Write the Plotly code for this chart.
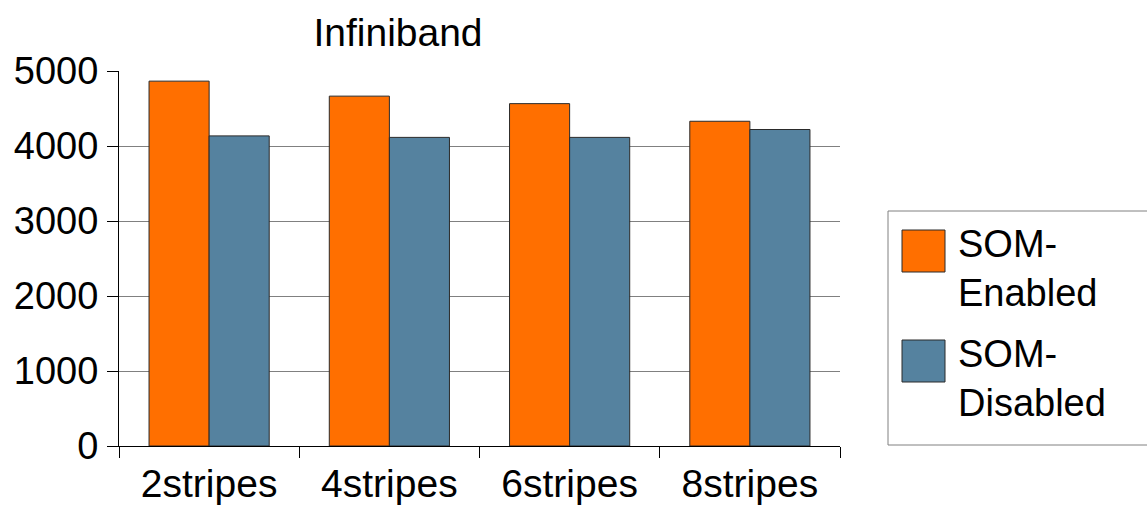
import plotly.graph_objects as go

categories = ["2stripes", "4stripes", "6stripes", "8stripes"]
som_enabled = [4865, 4665, 4565, 4330]
som_disabled = [4135, 4115, 4115, 4220]
series_names = ["SOM-Enabled", "SOM-Disabled"]
legend_labels = ["SOM-<br>Enabled", "SOM-<br>Disabled"]
colors = ["#FF6F00", "#55829F"]
y_ticks = [0, 1000, 2000, 3000, 4000, 5000]

W, H = 1147, 506
L, R, T, B = 119, 307, 71, 60
PW, PH = W - L - R, H - T - B

def px(x):
    return (x - L) / PW

def py(y):
    return (H - B - y) / PH

fig = go.Figure()
for name, vals, col in zip(series_names, [som_enabled, som_disabled], colors):
    fig.add_trace(go.Bar(
        x=categories, y=vals, name=name,
        marker=dict(color=col, line=dict(color="#2a2a2a", width=1)),
        showlegend=False,
    ))

font = "Liberation Sans, Arial, sans-serif"

# manual legend
shapes = [dict(type="rect", xref="paper", yref="paper",
               x0=px(888), x1=px(1160), y0=py(445), y1=py(211),
               line=dict(color="#808080", width=1), fillcolor="white", layer="below")]
annotations = []
for i, (lab, col) in enumerate(zip(legend_labels, colors)):
    top = 230 + i * 110
    shapes.append(dict(type="rect", xref="paper", yref="paper",
                       x0=px(902), x1=px(945), y0=py(top + 42), y1=py(top),
                       line=dict(color="#2a2a2a", width=1), fillcolor=col))
    annotations.append(dict(xref="paper", yref="paper", x=px(957), y=py(top - 8),
                            xanchor="left", yanchor="top", text=lab, showarrow=False,
                            align="left", borderpad=0,
                            font=dict(family=font, size=38, color="black")))

fig.update_layout(
    width=W, height=H,
    margin=dict(l=L, r=R, t=T, b=B, autoexpand=False),
    paper_bgcolor="white", plot_bgcolor="white",
    barmode="group", bargap=1/3, bargroupgap=0,
    font=dict(family=font, size=38, color="black"),
    title=dict(text="Infiniband", x=px(398), xref="paper", xanchor="center",
               y=1 - 32 / H, yref="container", yanchor="middle",
               font=dict(family=font, size=39, color="black")),
    shapes=shapes,
    annotations=annotations,
    xaxis=dict(showline=True, linecolor="black", linewidth=1, ticks="outside",
               tickson="boundaries", ticklen=11, tickcolor="black", showgrid=False,
               tickfont=dict(size=39), ticklabelstandoff=3),
    yaxis=dict(range=[0, 5000], tickvals=y_ticks, showline=True, linecolor="black",
               linewidth=1, ticks="outside", ticklen=11, tickcolor="black",
               showgrid=True, gridcolor="#808080", gridwidth=1, zeroline=False,
               tickfont=dict(size=38), ticklabelstandoff=1),
)

fig.write_html("out.html", config={"displayModeBar": False},
               post_script="document.body.style.margin='0';document.body.style.overflow='hidden';")
